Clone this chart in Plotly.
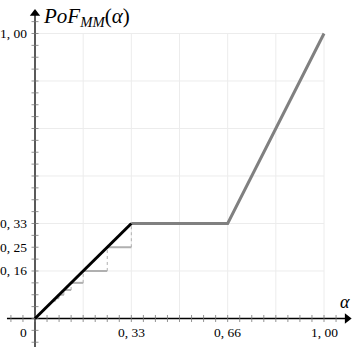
import plotly.graph_objects as go

# Data
black_x = [0.0, 1/3]
black_y = [0.0, 1/3]
gray_x = [1/3, 2/3, 1.0]
gray_y = [1/3, 1/3, 1.0]
step_y = [0.25, 0.1667, 0.125, 0.1, 0.0833, 0.0714, 0.0625]
step_x0 = [0.25, 0.1667, 0.125, 0.1, 0.0833, 0.0714, 0.0625]
step_x1 = [0.3333, 0.25, 0.1667, 0.125, 0.1, 0.0833, 0.0714]
step_ytop = [0.3333, 0.25, 0.1667, 0.125, 0.1, 0.0833, 0.0714]
grid_vals = [1/6, 2/6, 3/6, 4/6, 5/6, 1.0]
minor_ticks = [i/24 for i in range(-2, 26)]
xtick_vals = [1/3, 2/3, 1.0]
xtick_text = ["0, 33", "0, 66", "1, 00"]
ytick_vals = [1/6, 0.25, 1/3, 1.0]
ytick_text = ["0, 16", "0, 25", "0, 33", "1, 00"]
x_axis_span = [-0.097, 1.08]
y_axis_span = [-0.1, 1.07]

FONT = "Liberation Serif, DejaVu Serif, serif"
fig = go.Figure()

# grid
for g in grid_vals:
    fig.add_trace(go.Scatter(x=[0, 1], y=[g, g], mode="lines", line=dict(color="#ececec", width=1), hoverinfo="skip"))
    fig.add_trace(go.Scatter(x=[g, g], y=[0, 1], mode="lines", line=dict(color="#ececec", width=1), hoverinfo="skip"))

# staircase
for yv, a, b, top in zip(step_y, step_x0, step_x1, step_ytop):
    fig.add_trace(go.Scatter(x=[a, b], y=[yv, yv], mode="lines", line=dict(color="#b0b0b0", width=2), hoverinfo="skip"))
    fig.add_trace(go.Scatter(x=[b, b], y=[yv, top], mode="lines", line=dict(color="#b0b0b0", width=1, dash="dot"), hoverinfo="skip"))

# axes lines with arrowheads
fig.add_trace(go.Scatter(x=x_axis_span, y=[0, 0], mode="lines", line=dict(color="black", width=1.3), hoverinfo="skip"))
fig.add_trace(go.Scatter(x=[0, 0], y=y_axis_span, mode="lines", line=dict(color="black", width=1.3), hoverinfo="skip"))
fig.add_trace(go.Scatter(x=[x_axis_span[1]], y=[0], mode="markers",
                         marker=dict(symbol="triangle-right", size=9, color="black"), hoverinfo="skip"))
fig.add_trace(go.Scatter(x=[0], y=[y_axis_span[1]], mode="markers",
                         marker=dict(symbol="triangle-up", size=9, color="black"), hoverinfo="skip"))

# minor ticks on axes
tk = [t for t in minor_ticks if t <= 1.06]
fig.add_trace(go.Scatter(x=tk, y=[0]*len(tk), mode="markers",
                         marker=dict(symbol="line-ns-open", size=5, color="#777", line=dict(color="#777", width=0.8)), hoverinfo="skip"))
fig.add_trace(go.Scatter(y=tk, x=[0]*len(tk), mode="markers",
                         marker=dict(symbol="line-ew-open", size=5, color="#777", line=dict(color="#777", width=0.8)), hoverinfo="skip"))

# main lines
fig.add_trace(go.Scatter(x=gray_x, y=gray_y, mode="lines", line=dict(color="#808080", width=3), hoverinfo="skip"))
fig.add_trace(go.Scatter(x=black_x, y=black_y, mode="lines", line=dict(color="#000000", width=3), hoverinfo="skip"))

# tick labels
for v, t in zip(xtick_vals, xtick_text):
    fig.add_annotation(x=v, y=-0.015, text=t, showarrow=False, yanchor="top", xref="x", yref="y",
                       font=dict(family=FONT, size=13.5, color="black"))
fig.add_annotation(x=-0.022, y=-0.015, text="0", showarrow=False, yanchor="top", xanchor="right",
                   font=dict(family=FONT, size=13.5, color="black"))
for v, t in zip(ytick_vals, ytick_text):
    fig.add_annotation(x=-0.02, y=v, text=t, showarrow=False, xanchor="right", xref="x", yref="y",
                       font=dict(family=FONT, size=13.5, color="black"))

fig.add_annotation(x=0.02, y=1.058, text="<i>PoF</i><sub><i>MM</i></sub>(<i>α</i>)", showarrow=False,
                   xanchor="left", yanchor="middle", font=dict(family=FONT, size=21, color="black"))
fig.add_annotation(x=1.073, y=0.058, text="<i>α</i>", showarrow=False,
                   font=dict(family=FONT, size=18, color="black"))

fig.update_layout(width=356, height=353, margin=dict(l=0, r=0, t=0, b=0),
                  paper_bgcolor="white", plot_bgcolor="white", showlegend=False,
                  xaxis=dict(range=[-0.1211, 1.1107], visible=False, fixedrange=True),
                  yaxis=dict(range=[-0.1211, 1.1175], visible=False, fixedrange=True))
fig.write_html("out.html", config={"displayModeBar": False},
               post_script="document.body.style.margin='0';document.body.style.overflow='hidden';")
